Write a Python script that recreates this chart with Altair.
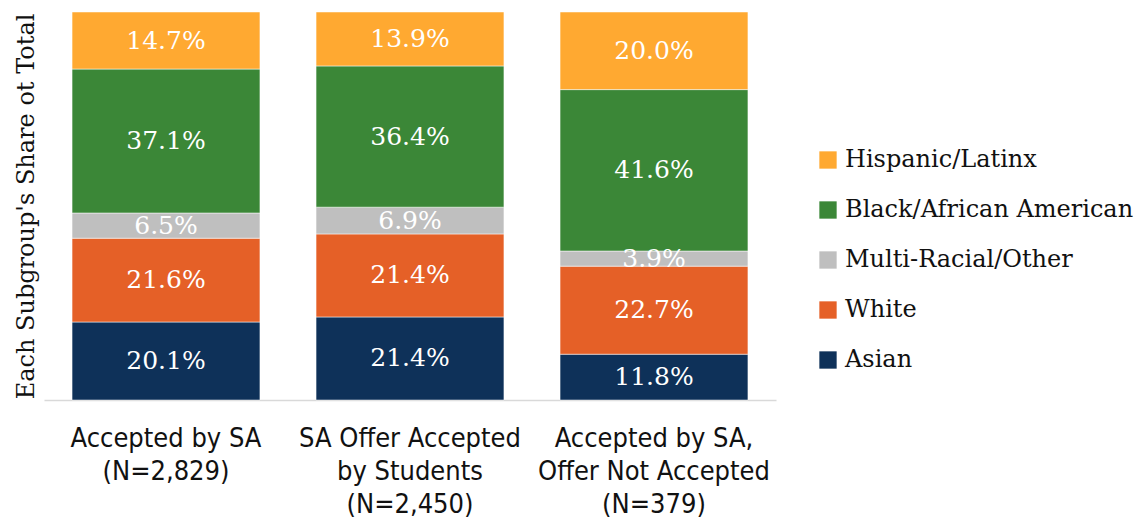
import altair as alt
import pandas as pd

categories = ["Accepted by SA|(N=2,829)",
              "SA Offer Accepted|by Students|(N=2,450)",
              "Accepted by SA,|Offer Not Accepted|(N=379)"]
groups = ["Asian", "White", "Multi-Racial/Other", "Black/African American", "Hispanic/Latinx"]
asian = [20.1, 21.4, 11.8]
white = [21.6, 21.4, 22.7]
multi = [6.5, 6.9, 3.9]
black = [37.1, 36.4, 41.6]
hispanic = [14.7, 13.9, 20.0]
colors = ["#0E3159", "#E56027", "#BFBFBF", "#3B8737", "#FFA931"]

series = [asian, white, multi, black, hispanic]
rows = []
for gi, (g, vals) in enumerate(zip(groups, series)):
    for ci, c in enumerate(categories):
        rows.append({"cat": c, "group": g, "value": vals[ci], "ord": gi})
df = pd.DataFrame(rows)

legend_order = list(reversed(groups))
legend_colors = list(reversed(colors))

base = alt.Chart(df).transform_stack(
    stack="value", groupby=["cat"], sort=[alt.SortField("ord", order="ascending")],
    as_=["y0", "y1"]
).transform_calculate(mid="(datum.y0 + datum.y1) / 2", lbl="format(datum.value, '.1f') + '%'")

xenc = alt.X("cat:N", sort=categories, title=None,
             scale=alt.Scale(paddingInner=0.23, paddingOuter=0.115),
             axis=alt.Axis(labelExpr="split(datum.label, '|')", labelAngle=0,
                           labelFont="DejaVu Sans Condensed, Liberation Sans Narrow, Roboto Condensed, Liberation Sans",
                           labelFontSize=27, labelColor="#111111", labelLineHeight=33,
                           labelPadding=25, labelLimit=400, ticks=False, domainColor="#D9D9D9",
                           domainWidth=1.5, labelBaseline="top"))

yscale = alt.Scale(domain=[0, 100], nice=False, zero=True)

bars = base.mark_bar(stroke="white", strokeWidth=0.5).encode(
    x=xenc,
    y=alt.Y("y0:Q", scale=yscale,
            title="Each Subgroup's Share ot Total",
            axis=alt.Axis(labels=False, ticks=False, domain=False, grid=False,
                          titleFont="DejaVu Serif", titleFontSize=24, titleFontWeight="normal",
                          titleColor="#111111", titlePadding=6)),
    y2="y1:Q",
    color=alt.Color("group:N", scale=alt.Scale(domain=legend_order, range=legend_colors),
                    legend=alt.Legend(title=None, orient="none", legendX=772, legendY=136,
                                      symbolType="square", symbolSize=300, symbolStrokeWidth=0,
                                      labelFont="DejaVu Serif", labelFontSize=24,
                                      labelColor="#111111", labelOffset=5, rowPadding=26,
                                      labelLimit=400)),
)

texts = base.mark_text(color="white", font="DejaVu Serif", fontSize=25, baseline="middle").encode(
    x=alt.X("cat:N", sort=categories),
    y=alt.Y("mid:Q", scale=yscale),
    text="lbl:N",
)

chart = alt.layer(bars, texts).properties(
    width=732, height=388,
    autosize=alt.AutoSizeParams(type="none"),
    padding={"left": 36, "top": 4, "right": 360, "bottom": 121},
).configure_view(stroke=None)

chart.save("out.html", embed_options={"renderer": "svg", "actions": False})
